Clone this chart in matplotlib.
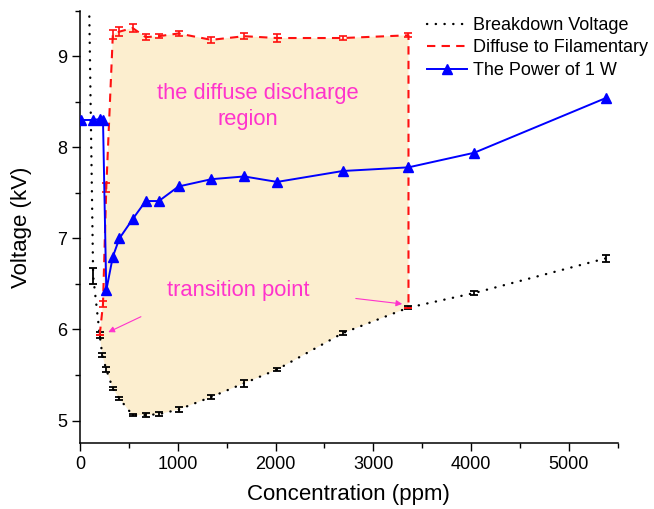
import numpy as np
import matplotlib
matplotlib.use("Agg")
import matplotlib.pyplot as plt
from matplotlib.ticker import MultipleLocator
from matplotlib.lines import Line2D

plt.rcParams['font.family'] = ['Liberation Sans', 'DejaVu Sans']

# Breakdown voltage (kV) vs concentration (ppm)
bd_x = [67.2, 134.4, 201.6, 228, 268.8, 336, 403.2, 537.6, 672, 806.4, 1008, 1344, 1680, 2016, 2688, 3360, 4032, 5376]
bd_y = [11.5, 6.59, 5.94, 5.72, 5.56, 5.35, 5.24, 5.06, 5.06, 5.07, 5.12, 5.26, 5.41, 5.56, 5.96, 6.24, 6.40, 6.78]
bd_err = [0, 0.09, 0.03, 0.02, 0.03, 0.02, 0.02, 0.015, 0.02, 0.02, 0.025, 0.02, 0.04, 0.02, 0.02, 0.015, 0.02, 0.04]

# Diffuse to filamentary transition voltage
df_x = [201.6, 235.2, 268.8, 336, 403.2, 537.6, 672, 806.4, 1008, 1344, 1680, 2016, 2688, 3360, 3360]
df_y = [5.94, 6.28, 7.56, 9.24, 9.27, 9.31, 9.21, 9.22, 9.25, 9.18, 9.22, 9.20, 9.20, 9.23, 6.24]
df_err = [0, 0.03, 0.05, 0.05, 0.05, 0.04, 0.03, 0.02, 0.03, 0.03, 0.03, 0.04, 0.02, 0.02, 0]

# Voltage at power of 1 W
pw_x = [10, 134.4, 201.6, 235.2, 268.8, 336, 403.2, 537.6, 672, 806.4, 1008, 1344, 1680, 2016, 2688, 3360, 4032, 5376]
pw_y = [8.30, 8.30, 8.31, 8.30, 6.43, 6.80, 7.00, 7.21, 7.41, 7.41, 7.57, 7.65, 7.68, 7.62, 7.74, 7.78, 7.94, 8.54]

labels = ['Breakdown Voltage', 'Diffuse to Filamentary', 'The Power of 1 W']

magenta = '#FF33CC'
red = '#FF1010'
blue = '#0000FF'
dot_style = (0, (0.1, 3.6))
dash_style = (0, (4, 3))

fig = plt.figure(figsize=(6.54, 5.09), dpi=100)
ax = fig.add_axes([80/654, 1-443.3/509, (617.7-80)/654, (443.3-10.7)/509])

# Filled diffuse discharge region: red curve on top, breakdown curve below
bx = np.array(bd_x); by = np.array(bd_y)
mask = (bx >= df_x[0]) & (bx <= df_x[-1])
poly_x = np.concatenate([df_x, bx[mask][::-1]])
poly_y = np.concatenate([df_y, by[mask][::-1]])
ax.fill(poly_x, poly_y, color='#FCEECF', lw=0, zorder=1)

ax.plot(bd_x, bd_y, color='black', ls=dot_style, lw=1.7,
        dash_capstyle='round', zorder=3)
ax.errorbar(bd_x, bd_y, yerr=bd_err, color='black', ls='none', capsize=3,
            elinewidth=1.3, capthick=1.3, zorder=3)
ax.plot(df_x, df_y, color=red, ls=dash_style, lw=1.5, zorder=4)
ax.errorbar(df_x, df_y, yerr=df_err, color=red, ls='none', capsize=3,
            elinewidth=1.2, capthick=1.2, zorder=4)
ax.plot(pw_x, pw_y, color=blue, lw=1.4, marker='^', ms=7.5, zorder=5)

ax.text(1820, 8.59, 'the diffuse discharge', color=magenta, fontsize=15.8,
        ha='center', va='center')
ax.text(1720, 8.31, 'region', color=magenta, fontsize=15.8, ha='center', va='center')
ax.text(1620, 6.43, 'transition point', color=magenta, fontsize=15.8,
        ha='center', va='center')
ax.annotate('', xy=(289, 5.97), xytext=(623, 6.14),
            arrowprops=dict(arrowstyle='-|>', color=magenta, lw=0.8,
                            mutation_scale=9, shrinkA=0, shrinkB=0))
ax.annotate('', xy=(3296, 6.28), xytext=(2821, 6.34),
            arrowprops=dict(arrowstyle='-|>', color=magenta, lw=0.8,
                            mutation_scale=9, shrinkA=0, shrinkB=0))

ax.set_xlim(0, 5500)
ax.set_ylim(4.75, 9.5)
ax.xaxis.set_major_locator(MultipleLocator(1000))
ax.xaxis.set_minor_locator(MultipleLocator(500))
ax.yaxis.set_major_locator(MultipleLocator(1))
ax.yaxis.set_minor_locator(MultipleLocator(0.5))
for s in ['top', 'right']:
    ax.spines[s].set_visible(False)
for s in ['left', 'bottom']:
    ax.spines[s].set_linewidth(1.1)
ax.tick_params(which='major', direction='out', length=5.5, width=1, labelsize=13)
ax.tick_params(which='minor', direction='out', length=3.5, width=1)
ax.set_xlabel('Concentration (ppm)', fontsize=16, labelpad=8)
ax.set_ylabel('Voltage (kV)', fontsize=16, labelpad=18)

handles = [
    Line2D([], [], color='black', ls=dot_style, lw=1.7, dash_capstyle='round'),
    Line2D([], [], color=red, ls=dash_style, lw=1.5),
    Line2D([], [], color=blue, lw=1.4, marker='^', ms=7.5),
]
leg = ax.legend(handles, labels, loc='upper left',
                bbox_to_anchor=(427/654, 1-17/509),
                bbox_transform=fig.transFigure, frameon=False, fontsize=13,
                handlelength=2.2, handletextpad=0.35, labelspacing=0.3,
                borderpad=0, borderaxespad=0)

fig.savefig('out.png', dpi=100)
